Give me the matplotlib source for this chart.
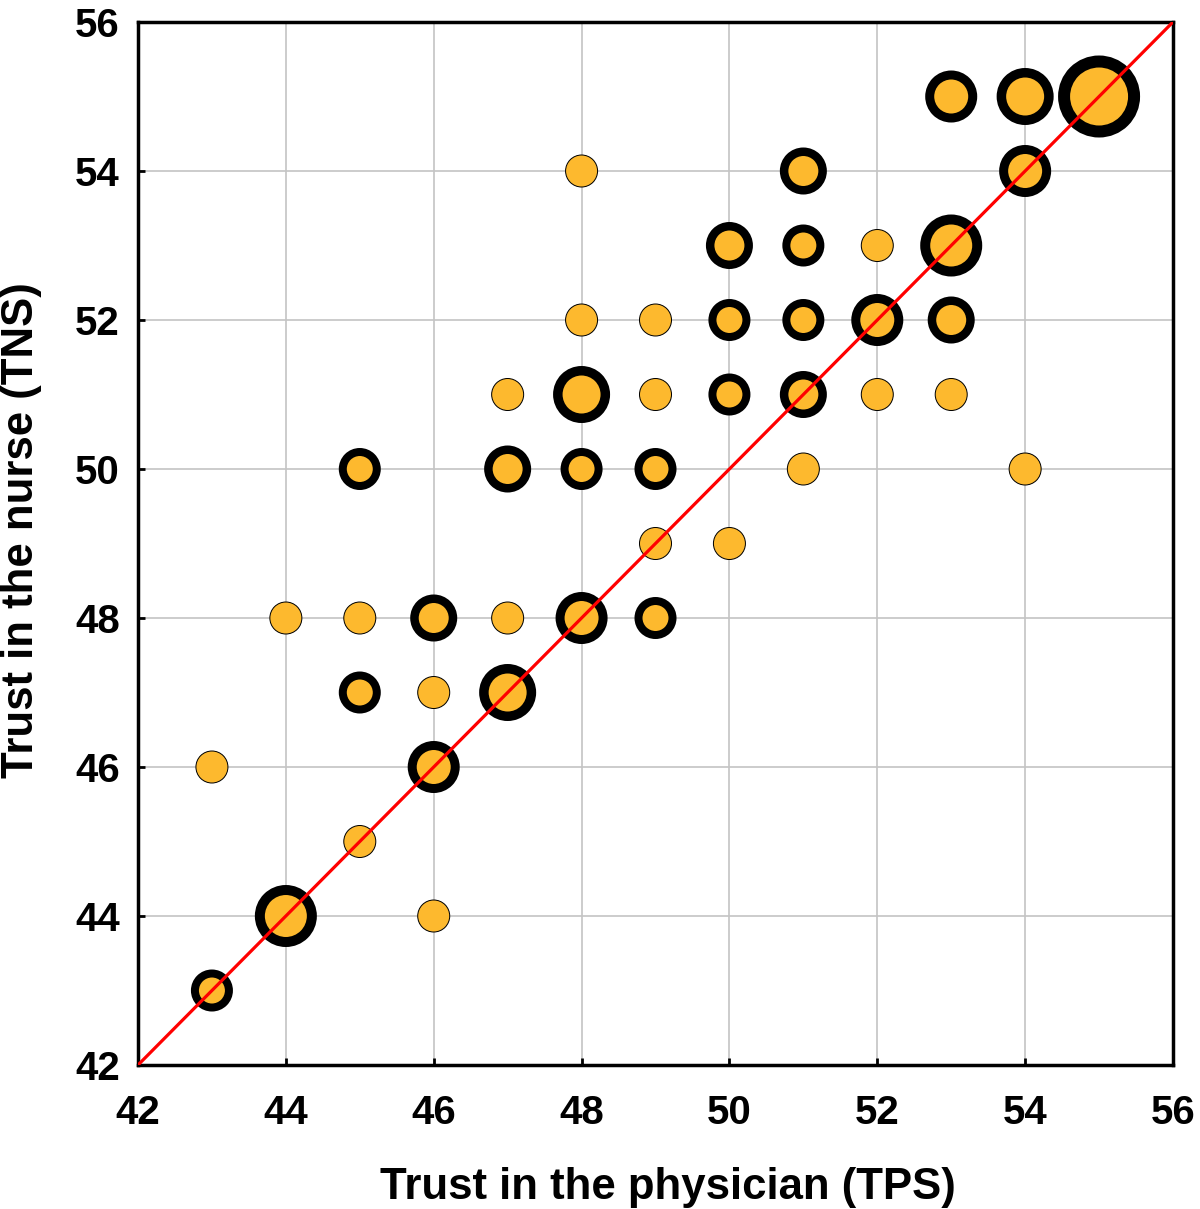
import numpy as np
import matplotlib
matplotlib.use('Agg')
import matplotlib.pyplot as plt

# datos: puntaje TPS (x), TNS (y) y cantidad de casos en cada punto
tps = [53, 54, 55,
       48, 51, 54,
       50, 51, 52, 53,
       48, 49, 50, 51, 52, 53,
       47, 48, 49, 50, 51, 52, 53,
       45, 47, 48, 49, 51, 54,
       49, 50,
       44, 45, 46, 47, 48, 49,
       45, 46, 47,
       43, 46,
       45,
       44, 46,
       43]
tns = [55, 55, 55,
       54, 54, 54,
       53, 53, 53, 53,
       52, 52, 52, 52, 52, 52,
       51, 51, 51, 51, 51, 51, 51,
       50, 50, 50, 50, 50, 50,
       49, 49,
       48, 48, 48, 48, 48, 48,
       47, 47, 47,
       46, 46,
       45,
       44, 44,
       43]
casos = [4, 5, 10,
         1, 3, 4,
         3, 2, 1, 6,
         1, 1, 2, 2, 4, 3,
         1, 5, 1, 2, 3, 1, 1,
         2, 3, 2, 2, 1, 1,
         1, 1,
         1, 1, 3, 1, 4, 2,
         2, 1, 5,
         1, 4,
         1,
         6, 1,
         2]

x = np.array(tps)
y = np.array(tns)
n = np.array(casos)

# tamano del circulo y grosor del borde segun la cantidad de casos (en pixeles)
px = 72 / 100
diam = np.where(n > 1, 25 + 4.5 * n, 32)
borde = np.where(n > 1, (14 + n) / 2, 1)

plt.rcParams['font.family'] = ['Liberation Sans', 'DejaVu Sans']
plt.rcParams['font.weight'] = 'bold'

fig = plt.figure(figsize=(12, 12.09), dpi=100)
ax = fig.add_axes([0.115, 0.1191, 0.8625, 0.8627])

ax.grid(True, color='#c4c4c4', linewidth=1.2)
ax.set_axisbelow(True)

ax.scatter(x, y, s=(diam * px) ** 2, c='#fdb92e', edgecolors='black',
           linewidths=borde * px, zorder=3)
ax.plot([42, 56], [42, 56], color='#ff0000', linewidth=2.3, zorder=4)

ax.set_xlim(42, 56)
ax.set_ylim(42, 56)
ax.set_xticks(np.arange(42, 57, 2))
ax.set_yticks(np.arange(42, 57, 2))
ax.tick_params(direction='in', length=5, width=2, labelsize=29)
ax.tick_params(axis='x', pad=21)
ax.tick_params(axis='y', pad=13)
for lab in ax.get_xticklabels() + ax.get_yticklabels():
    lab.set_fontweight('bold')
for sp in ax.spines.values():
    sp.set_linewidth(2.5)

ax.set_xlabel("Trust in the physician (TPS)", fontsize=31.5, fontweight='bold')
ax.set_ylabel("Trust in the nurse (TNS)", fontsize=31.5, fontweight='bold')
ax.xaxis.set_label_coords(0.512, -0.098)
ax.yaxis.set_label_coords(-0.093, 0.513)

plt.savefig("out.png", dpi=100)
